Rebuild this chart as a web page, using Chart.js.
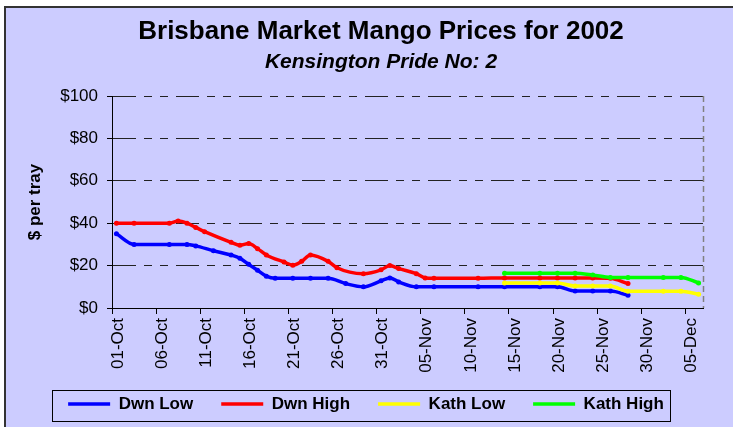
<!DOCTYPE html>
<html>
<head>
<meta charset="utf-8">
<script src="https://cdn.jsdelivr.net/npm/chart.js@4.4.1/dist/chart.umd.min.js"></script>
<style>
  html, body { margin: 0; padding: 0; background: #fff; }
  canvas { display: block; }
</style>
</head>
<body>
<canvas id="chart" width="733" height="427"></canvas>
<script>
// Day numbers count from 01-Oct (day 0)
const monthStart = { Oct: 0, Nov: 31, Dec: 61 };
const tickLabels = ['01-Oct', '06-Oct', '11-Oct', '16-Oct', '21-Oct', '26-Oct', '31-Oct',
                    '05-Nov', '10-Nov', '15-Nov', '20-Nov', '25-Nov', '30-Nov', '05-Dec'];
const yTicks = [0, 20, 40, 60, 80, 100];

// Darwin low
const dwnLowDates = ['01-Oct', '03-Oct', '07-Oct', '09-Oct', '10-Oct', '12-Oct', '14-Oct', '15-Oct',
                     '16-Oct', '17-Oct', '18-Oct', '19-Oct', '21-Oct', '23-Oct', '25-Oct', '27-Oct',
                     '29-Oct', '31-Oct', '01-Nov', '02-Nov', '04-Nov', '06-Nov', '11-Nov', '14-Nov',
                     '18-Nov', '20-Nov', '22-Nov', '24-Nov', '26-Nov', '28-Nov'];
const dwnLowValues = [35, 30, 30, 30, 29.3, 27, 25, 23.5,
                      20.6, 17.8, 15, 14, 14, 14, 14, 11.5,
                      10, 12.8, 14.2, 12.3, 10, 10, 10, 10,
                      10, 10, 8, 8, 8, 6];

// Darwin high
const dwnHighDates = ['01-Oct', '03-Oct', '07-Oct', '08-Oct', '09-Oct', '10-Oct', '11-Oct', '14-Oct',
                      '15-Oct', '16-Oct', '17-Oct', '18-Oct', '20-Oct', '21-Oct', '22-Oct', '23-Oct',
                      '25-Oct', '26-Oct', '29-Oct', '31-Oct', '01-Nov', '02-Nov', '04-Nov', '05-Nov',
                      '06-Nov', '11-Nov', '14-Nov', '18-Nov', '20-Nov', '22-Nov', '24-Nov', '26-Nov',
                      '28-Nov'];
const dwnHighValues = [40, 40, 40, 41, 40, 38, 36, 31,
                       29.6, 30.4, 28, 25, 21.7, 20.2, 22, 25,
                       22, 19, 16.2, 18, 20, 18.6, 16.2, 14.2,
                       14, 14, 14.2, 14.2, 14.2, 14.2, 14.2, 14,
                       11.5];

// Katherine
const kathDates = ['14-Nov', '18-Nov', '20-Nov', '22-Nov', '24-Nov', '26-Nov', '28-Nov',
                   '02-Dec', '04-Dec', '06-Dec'];
const kathLowValues = [11.8, 11.8, 11.8, 10.4, 10.4, 10.4, 7.9, 7.9, 7.9, 6.5];
const kathHighValues = [16.4, 16.4, 16.4, 16.4, 15.6, 14.4, 14.4, 14.4, 14.4, 11.8];

function dayNum(label) {
    const [d, m] = label.split('-');
    return monthStart[m] + Number(d) - 1;
}

// points sit in the middle of their day
function toPoints(dates, values) {
    return dates.map((d, i) => ({ x: dayNum(d) + 0.5, y: values[i] }));
}

function series(label, dates, values, color, order) {
    return {
        label: label,
        data: toPoints(dates, values),
        borderColor: color,
        backgroundColor: color,
        pointBackgroundColor: color,
        pointBorderWidth: 0,
        pointRadius: 2.5,
        borderWidth: 3.5,
        cubicInterpolationMode: 'monotone',
        order: order
    };
}

const FONT = "'Liberation Sans', Arial, sans-serif";
Chart.defaults.font.family = FONT;
Chart.defaults.color = '#000';

// Fondo lavanda y marco exterior
const chartBackground = {
    id: 'chartBackground',
    beforeDraw(chart) {
        const c = chart.ctx;
        c.save();
        c.fillStyle = '#ffffff';
        c.fillRect(0, 0, chart.width, chart.height);
        c.fillStyle = '#ccccff';
        c.fillRect(4, 6, chart.width, chart.height);
        c.fillStyle = '#333333';
        c.fillRect(4, 6, chart.width, 2);
        c.fillRect(4, 6, 2, chart.height);
        c.restore();
    }
};

// Borde punteado del area y recuadro de la leyenda
const frames = {
    id: 'frames',
    beforeDatasetsDraw(chart) {
        const { ctx: c, chartArea: a } = chart;
        c.save();
        c.strokeStyle = '#808080';
        c.lineWidth = 1.5;
        c.setLineDash([6, 4]);
        c.beginPath();
        c.moveTo(a.right + 0.5, a.top);
        c.lineTo(a.right + 0.5, a.bottom);
        c.stroke();
        c.restore();
    },
    afterDraw(chart) {
        const boxes = chart.legend.legendHitBoxes;
        if (!boxes.length) return;
        const first = boxes[0];
        const last = boxes[boxes.length - 1];
        const cy = first.top + first.height / 2;
        const c = chart.ctx;
        c.save();
        c.strokeStyle = '#000';
        c.lineWidth = 1;
        c.strokeRect(Math.round(first.left - 16) + 0.5, Math.round(cy - 14) + 0.5,
                     Math.round(last.left + last.width + 6 - (first.left - 16)), 31);
        c.restore();
    }
};

// Excel centra titulo y leyenda en un grafico mas ancho que el recorte
const shiftBoxes = {
    id: 'shiftBoxes',
    afterLayout(chart) {
        chart.boxes.forEach(b => {
            if (b.options && typeof b.options.text === 'string') {
                b.left += 26.5;
                b.right += 26.5;
            }
        });
        chart.legend.left += 11.5;
        chart.legend.right += 11.5;
        chart.legend.top -= 6.5;
        chart.legend.bottom -= 6.5;
    }
};

const ctx = document.getElementById('chart').getContext('2d');

const chart = new Chart(ctx, {
    type: 'line',
    data: {
        datasets: [
            series('Dwn Low', dwnLowDates, dwnLowValues, '#0000ff', 3),
            series('Dwn High', dwnHighDates, dwnHighValues, '#ff0000', 2),
            series('Kath Low', kathDates, kathLowValues, '#ffff00', 1),
            series('Kath High', kathDates, kathHighValues, '#00ff00', 0)
        ]
    },
    options: {
        responsive: false,
        animation: false,
        layout: { padding: { left: 6, right: 30, top: 0, bottom: -2 } },
        scales: {
            x: {
                type: 'linear',
                min: 0,
                max: 67,
                afterBuildTicks: s => { s.ticks = tickLabels.map(l => ({ value: dayNum(l) })); },
                afterFit: s => { s.height = 66; },
                ticks: {
                    minRotation: 90,
                    maxRotation: 90,
                    padding: 4,
                    labelOffset: 6,
                    font: { size: 17 },
                    callback: v => tickLabels.find(l => dayNum(l) === v)
                },
                grid: { drawOnChartArea: false, drawTicks: true, tickLength: 6, tickColor: '#000' },
                border: { display: true, color: '#000', width: 1 }
            },
            y: {
                min: 0,
                max: 100,
                afterBuildTicks: s => { s.ticks = yTicks.map(v => ({ value: v })); },
                afterFit: s => { s.width = 106; },
                ticks: {
                    padding: 9,
                    font: { size: 17 },
                    callback: v => '$' + v
                },
                grid: {
                    color: '#222',
                    lineWidth: 1,
                    tickLength: 5,
                    tickColor: '#000',
                    tickBorderDash: []
                },
                border: { display: true, color: '#000', width: 1, dash: [23, 8, 8, 8, 8, 8] },
                title: {
                    display: true,
                    text: '$ per tray',
                    font: { size: 17, weight: 'bold' },
                    padding: { top: 19, bottom: 0 }
                }
            }
        },
        plugins: {
            title: {
                display: true,
                text: 'Brisbane Market Mango Prices for 2002',
                font: { size: 26, weight: 'bold' },
                padding: { top: 16, bottom: 0 }
            },
            subtitle: {
                display: true,
                text: 'Kensington Pride No: 2',
                color: '#000',
                font: { size: 21, weight: 'bold', style: 'italic' },
                padding: { top: 2, bottom: 21.6 }
            },
            legend: {
                position: 'bottom',
                labels: {
                    usePointStyle: true,
                    pointStyle: 'line',
                    pointStyleWidth: 42,
                    padding: 28,
                    font: { size: 17, weight: 'bold' },
                    sort: (a, b) => a.datasetIndex - b.datasetIndex,
                    generateLabels: chart =>
                        Chart.defaults.plugins.legend.labels.generateLabels(chart)
                            .map(item => Object.assign(item, { lineWidth: 3.5 }))
                }
            },
            tooltip: { enabled: false }
        }
    },
    plugins: [chartBackground, frames, shiftBoxes]
});
</script>
</body>
</html>
